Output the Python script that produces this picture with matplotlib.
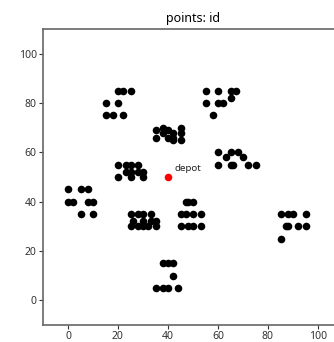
import matplotlib
matplotlib.use("Agg")
import matplotlib.pyplot as plt

x = [45,45,42,42,42,40,40,38,38,35,35,25,22,22,20,20,18,15,15,30,30,28,28,25,25,25,23,23,20,20,
     10,10,8,8,5,5,2,0,0,35,35,33,33,32,30,30,30,28,28,26,25,25,44,42,42,40,40,38,38,35,
     50,50,50,48,48,47,47,45,45,95,95,53,92,53,45,90,88,88,87,85,85,75,72,70,68,66,65,65,63,60,
     60,67,65,65,62,60,60,58,55,55]
y = [68,70,66,68,65,69,66,68,70,66,69,85,75,85,80,85,75,75,80,50,52,52,55,50,52,55,52,55,50,55,
     35,40,40,45,35,45,40,40,45,30,32,32,35,30,30,32,35,30,35,32,30,35,5,10,15,5,15,5,15,5,
     30,35,40,30,40,35,40,30,35,30,35,30,30,35,65,35,30,35,30,25,35,55,55,58,60,55,55,60,58,55,
     60,85,85,82,80,80,85,75,80,85]
depot = (40, 50)
title = "points: id"

plt.rcParams['font.family'] = ['Noto Sans', 'DejaVu Sans']
fig = plt.figure(figsize=(3.34, 3.42), dpi=100)
ax = fig.add_axes([43/334, 17/342, 300/334, 296/342])
ax.scatter(x, y, s=30, c='black', linewidths=0, zorder=3)
ax.scatter([depot[0]], [depot[1]], s=30, c='red', linewidths=0, zorder=4)
ax.text(depot[0] + 2.5, depot[1] + 2.5, "depot", fontsize=7, color='#222222')
ax.set_xlim(-10, 110)
ax.set_ylim(-10, 110)
ax.set_xticks([0, 20, 40, 60, 80, 100])
ax.set_yticks([0, 20, 40, 60, 80, 100])
ax.set_title(title, fontsize=9, pad=5, x=0.5)
for s in ax.spines.values():
    s.set_color('#666666')
    s.set_linewidth(1.2)
ax.tick_params(labelsize=7.5, length=3, width=0.8, color='#333333', labelcolor='#333333', pad=1.5)
fig.savefig("out.png", dpi=100)
